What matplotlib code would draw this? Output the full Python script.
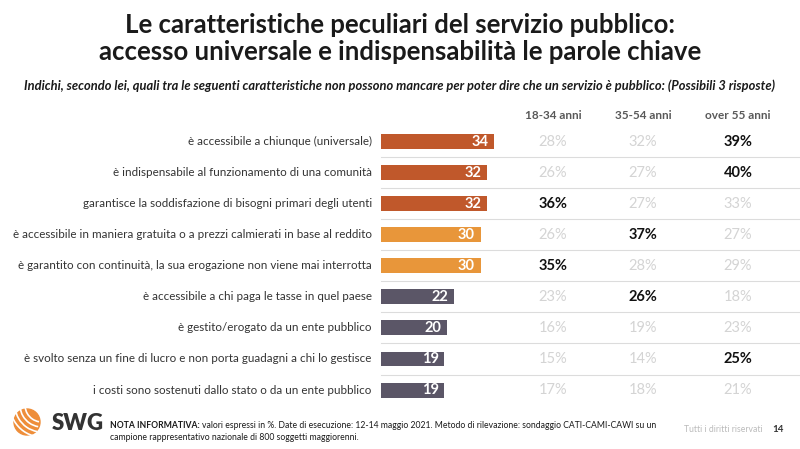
import matplotlib
matplotlib.use('Agg')
import matplotlib.pyplot as plt
import matplotlib.transforms as mtransforms
from matplotlib.patches import Circle, Arc

plt.rcParams['font.family'] = ['Lato', 'DejaVu Sans']

# ---- data
categories = [
    "è accessibile a chiunque (universale)",
    "è indispensabile al funzionamento di una comunità",
    "garantisce la soddisfazione di bisogni primari degli utenti",
    "è accessibile in maniera gratuita o a prezzi calmierati in base al reddito",
    "è garantito con continuità, la sua erogazione non viene mai interrotta",
    "è accessibile a chi paga le tasse in quel paese",
    "è gestito/erogato da un ente pubblico",
    "è svolto senza un fine di lucro e non porta guadagni a chi lo gestisce",
    "i costi sono sostenuti dallo stato o da un ente pubblico",
]
totals = [34, 32, 32, 30, 30, 22, 20, 19, 19]
group = [0, 0, 0, 1, 1, 2, 2, 2, 2]
age_labels = ["18-34 anni", "35-54 anni", "over 55 anni"]
age_18_34 = [28, 26, 36, 26, 35, 23, 16, 15, 17]
age_35_54 = [32, 27, 27, 37, 28, 26, 19, 14, 18]
age_55 = [39, 40, 33, 27, 29, 18, 23, 25, 21]
# which cells are in bold
hi_18_34 = [0, 0, 1, 0, 1, 0, 0, 0, 0]
hi_35_54 = [0, 0, 0, 1, 0, 1, 0, 0, 0]
hi_55 = [1, 1, 0, 0, 0, 0, 0, 1, 0]

group_colors = ['#C0582B', '#E8963A', '#5B5667']

fig = plt.figure(figsize=(8, 4.49), dpi=100)
W, H = 800, 449

# bars axes (pixel layout)
left, right, top, bottom = 381, 800, 126, 405.6
ax = fig.add_axes([left / W, 1 - bottom / H, (right - left) / W, (bottom - top) / H])
ax.set_xlim(0, (right - left) / 3.32)
ax.set_ylim(len(totals) - 0.5, -0.5)
ax.axis('off')

ypos = list(range(len(totals)))
ax.barh(ypos, totals, height=0.48, color=[group_colors[g] for g in group])

for i, v in enumerate(totals):
    ax.annotate(str(v), (v, i), xytext=(-4, 0), textcoords='offset points',
                ha='right', va='center', color='white', fontsize=10.5, fontweight='bold')

# separators
for i in range(len(totals) - 1):
    ax.plot([0, 1], [i + 0.5, i + 0.5], transform=ax.get_yaxis_transform(),
            color='#dcdcdc', lw=0.8, clip_on=False)

trans = mtransforms.blended_transform_factory(ax.transAxes, ax.transData)
for i, c in enumerate(categories):
    ax.text(-0.022, i, c, transform=trans, ha='right', va='center',
            fontsize=8.4, color='#333333')

# table of ages
cols_x = [0.4105, 0.625, 0.852]
cols = [(age_18_34, hi_18_34), (age_35_54, hi_35_54), (age_55, hi_55)]
for x, lab, (vals, hi) in zip(cols_x, age_labels, cols):
    ax.text(x, -0.83, lab, transform=trans, ha='center', va='center',
            fontsize=8.5, fontweight='bold', color='#595959', clip_on=False)
    for i, (v, h) in enumerate(zip(vals, hi)):
        if h:
            ax.text(x, i, f"{v}%", transform=trans, ha='center', va='center',
                    fontsize=10.5, fontweight='bold', color='#111111')
        else:
            ax.text(x, i, f"{v}%", transform=trans, ha='center', va='center',
                    fontsize=10.5, color='#d4d4d4')

# titles
fig.text(0.5, 1 - 25 / H, "Le caratteristiche peculiari del servizio pubblico:",
         ha='center', va='center', fontsize=18.5, fontweight='bold', color='#1a1a1a')
fig.text(0.5, 1 - 52 / H, "accesso universale e indispensabilità le parole chiave",
         ha='center', va='center', fontsize=18.5, fontweight='bold', color='#1a1a1a')
fig.text(0.5, 1 - 86 / H,
         "Indichi, secondo lei, quali tra le seguenti caratteristiche non possono mancare "
         "per poter dire che un servizio è pubblico: (Possibili 3 risposte)",
         ha='center', va='center', fontsize=9.3, fontweight='bold', style='italic',
         color='#1a1a1a')

# footer: logo
lax = fig.add_axes([0, 0, 1, 1], zorder=-1)
lax.set_xlim(0, W)
lax.set_ylim(H, 0)
lax.axis('off')
lax.add_patch(Circle((27, 422), 13, color='#EE8E3A'))
for k in range(4):
    lax.add_patch(Arc((42, 405), 34 + k * 10, 34 + k * 10, theta1=100, theta2=200,
                      color='white', lw=1.2))
fig.text(52 / W, 1 - 424 / H, "SWG", ha='left', va='center', fontsize=16,
         fontweight='heavy', color='#333333')

bold_t = fig.text(110 / W, 1 - 426 / H, "NOTA INFORMATIVA:", ha='left', va='center',
                  fontsize=6.2, fontweight='bold', color='#1a1a1a')
fig.canvas.draw()
bb = bold_t.get_window_extent(fig.canvas.get_renderer())
fig.text(bb.x1 / W + 2 / W, 1 - 426 / H,
         "valori espressi in %. Date di esecuzione: "
         "12-14 maggio 2021. Metodo di rilevazione: sondaggio CATI-CAMI-CAWI su un",
         ha='left', va='center', fontsize=6.2, color='#1a1a1a')
fig.text(110 / W, 1 - 438 / H, "campione rappresentativo nazionale di 800 soggetti maggiorenni.",
         ha='left', va='center', fontsize=6.2, color='#1a1a1a')
fig.text(763 / W, 1 - 430 / H, "Tutti i diritti riservati", ha='right', va='center',
         fontsize=6.2, color='#bbbbbb')
fig.text(772 / W, 1 - 430 / H, "14", ha='left', va='center', fontsize=7,
         fontweight='bold', color='#333333')

fig.savefig('out.png', dpi=100, facecolor='white')
